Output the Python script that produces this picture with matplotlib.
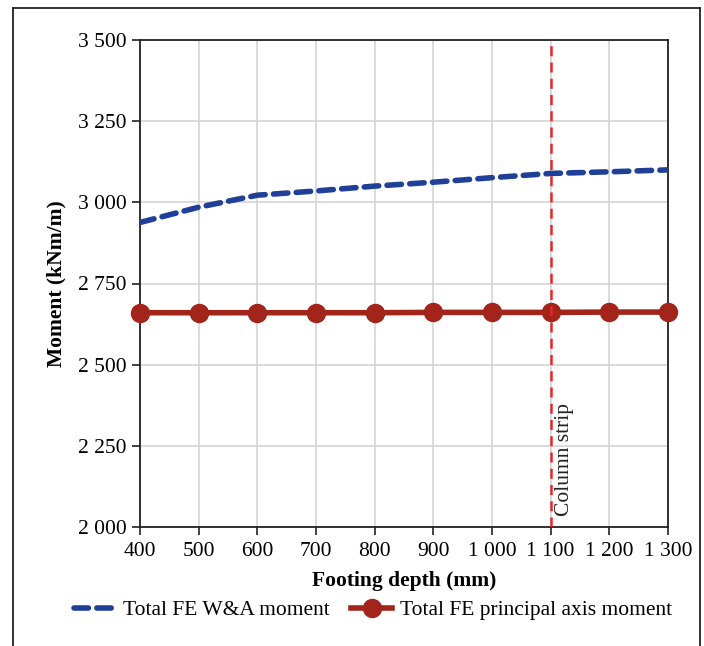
import matplotlib
matplotlib.use("Agg")
import matplotlib.pyplot as plt
from matplotlib.lines import Line2D

plt.rcParams['font.family'] = ['Liberation Serif', 'DejaVu Serif']

depth = [400, 500, 600, 700, 800, 900, 1000, 1100, 1200, 1300]
wa_moment = [2938, 2985, 3022, 3035, 3050, 3062, 3076, 3089, 3094, 3100]
principal_moment = [2660, 2660, 2660, 2660, 2660, 2661, 2661, 2661, 2662, 2662]
x_ticks = [400, 500, 600, 700, 800, 900, 1000, 1100, 1200, 1300]
y_ticks = [2000, 2250, 2500, 2750, 3000, 3250, 3500]
column_strip = 1100

def fmt(v):
    return f"{v:,}".replace(",", " ")

W, H = 704, 646
fig = plt.figure(figsize=(W/100, H/100), dpi=100)
ax = fig.add_axes([140/W, 1-527/H, (668-140)/W, (527-40)/H])

blue = '#1f3f99'
red = '#a2241a'
fs = 15.5
ax.plot(depth, wa_moment, color=blue, lw=4, dashes=(2.6, 1.5), dash_capstyle='round',
        label='Total FE W&A moment', zorder=3)
ax.plot(depth, principal_moment, color=red, lw=4, marker='o', ms=13, clip_on=False,
        label='Total FE principal axis moment', zorder=4)
ax.axvline(column_strip, color='#e8262a', lw=1.8, dashes=(4, 2.5), zorder=5)
ax.text(column_strip + 7, 2035, 'Column strip', rotation=90, ha='left', va='bottom',
        fontsize=fs, color='#222222')

ax.set_xlim(400, 1300)
ax.set_ylim(2000, 3500)
ax.set_xticks(x_ticks)
ax.set_xticklabels([fmt(v) for v in x_ticks])
ax.set_yticks(y_ticks)
ax.set_yticklabels([fmt(v) for v in y_ticks])
ax.grid(True, color='#d4d4d4', lw=1.2)
ax.set_axisbelow(True)
for s in ax.spines.values():
    s.set_color('#222222')
    s.set_linewidth(1.3)
ax.tick_params(axis='both', direction='out', length=6, width=1.2, labelsize=fs, color='#222222')
ax.tick_params(axis='x', pad=5)
ax.set_xlabel('Footing depth (mm)', fontsize=fs, fontweight='bold', labelpad=7)
ax.set_ylabel('Moment (kNm/m)', fontsize=fs, fontweight='bold', labelpad=8)

fig.legend(handles=ax.get_lines()[:2], loc='center', bbox_to_anchor=(373/W, 1-610/H),
           ncol=2, frameon=False, fontsize=fs, handlelength=1.9, columnspacing=1.0,
           handletextpad=0.35, borderaxespad=0, borderpad=0)

# outer frame (left, top, right)
fig.add_artist(Line2D([13/W, 13/W], [0, 1-8/H], color='#222222', lw=1.3, transform=fig.transFigure))
fig.add_artist(Line2D([13/W, 700/W], [1-8/H, 1-8/H], color='#222222', lw=1.3, transform=fig.transFigure))
fig.add_artist(Line2D([700/W, 700/W], [0, 1-8/H], color='#222222', lw=1.3, transform=fig.transFigure))

fig.savefig('out.png', dpi=100)
